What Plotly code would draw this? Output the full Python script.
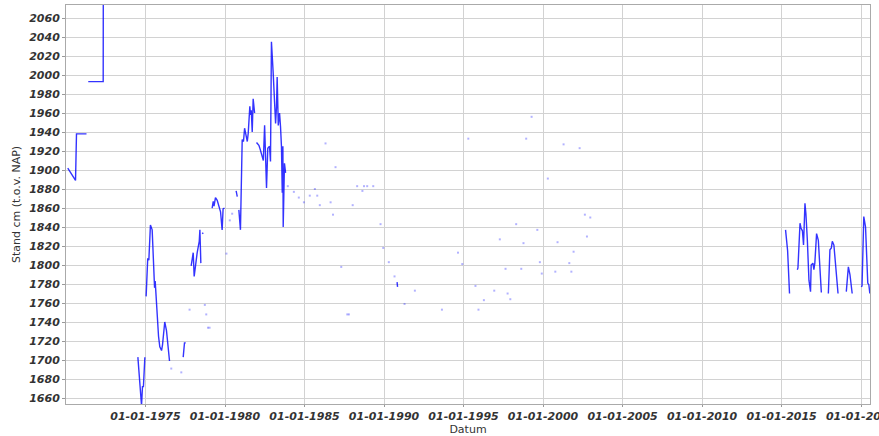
import datetime as dt
import plotly.graph_objects as go

# Continuous measurement series (decimal year, stand cm t.o.v. NAP); None = gap
line_years = [
    1970.11, 1970.28, 1970.60, 1970.66, 1971.29, None,
    1971.40, 1972.34, 1972.35, None,
    1974.52, 1974.62, 1974.69, 1974.75, 1974.81, 1974.87, 1974.96, None,
    1975.04, 1975.14, 1975.21, 1975.31, 1975.42, 1975.50, 1975.57, 1975.61, 1975.65,
    1975.74, 1975.82, 1975.90, 1976.01, 1976.07, 1976.21, 1976.32, 1976.42, 1976.51, None,
    1977.37, 1977.45, 1977.53, None,
    1977.87, 1977.96, 1978.00, 1978.06, 1978.14, 1978.25, 1978.38, 1978.42, 1978.48, None,
    1978.57, 1978.63, None,
    1979.19, 1979.26, 1979.31, 1979.40, 1979.51, 1979.61, 1979.72, 1979.82, 1979.88, 1979.97, None,
    1980.70, 1980.77, None,
    1980.87, 1980.97, 1981.08, 1981.16, 1981.23, 1981.40, 1981.46, 1981.56, 1981.60,
    1981.65, 1981.71, 1981.77, 1981.86, None,
    1981.98, 1982.13, 1982.19, 1982.28, 1982.41, 1982.49, 1982.55, 1982.61, 1982.69,
    1982.80, 1982.86, 1982.92, 1983.03, 1983.11, 1983.18, 1983.24, 1983.28, 1983.35,
    1983.43, 1983.49, 1983.55, 1983.60, 1983.64, 1983.66, 1983.74, 1983.81, None,
    1990.82, 1990.85, None,
    2015.25, 2015.38, 2015.50, None,
    2015.99, 2016.03, 2016.16, 2016.22, 2016.31, 2016.38, 2016.47, 2016.53, 2016.62,
    2016.72, 2016.82, 2016.86, 2016.97, 2017.03, 2017.09, 2017.20, 2017.31, 2017.50, None,
    2017.94, 2018.04, 2018.13, 2018.19, 2018.29, 2018.55, None,
    2019.07, 2019.20, 2019.30, 2019.44, None,
    2020.01, 2020.06, 2020.17, 2020.28, 2020.42, 2020.49, 2020.55,
]
line_levels = [
    1902, 1897, 1889, 1938, 1938, None,
    1993, 1993, 2150, None,
    1703, 1680, 1670, 1652, 1672, 1672, 1703, None,
    1767, 1807, 1805, 1842, 1837, 1800, 1776, 1783, 1770,
    1744, 1725, 1714, 1710, 1716, 1740, 1731, 1716, 1699, None,
    1703, 1718, 1718, None,
    1799, 1808, 1813, 1788, 1800, 1813, 1825, 1837, 1802, None,
    1833, 1834, None,
    1860, 1867, 1862, 1871, 1868, 1861, 1856, 1837, 1859, 1860, None,
    1878, 1872, None,
    1858, 1837, 1932, 1930, 1944, 1930, 1939, 1967, 1958,
    1963, 1940, 1975, 1960, None,
    1929, 1926, 1923, 1918, 1910, 1947, 1918, 1881, 1923,
    1925, 1909, 2035, 2002, 1970, 1949, 1967, 1998, 1947,
    1960, 1946, 1925, 1876, 1925, 1840, 1907, 1897, None,
    1782, 1777, None,
    1837, 1815, 1770, None,
    1795, 1797, 1844, 1839, 1836, 1821, 1865, 1854, 1826,
    1784, 1772, 1800, 1802, 1795, 1802, 1833, 1826, 1771, None,
    1770, 1816, 1818, 1825, 1821, 1770, None,
    1772, 1798, 1790, 1770, None,
    1777, 1778, 1851, 1840, 1781, 1779, 1770,
]

# Single measurements
point_years = [
    1976.62, 1977.25, 1977.77, 1978.73, 1978.82, 1978.93, 1979.03,
    1980.09, 1980.30, 1980.45,
    1983.95, 1984.33, 1984.64, 1984.96, 1985.33, 1985.65, 1985.80, 1985.96,
    1986.32, 1986.64, 1986.79, 1986.95, 1987.31, 1987.69, 1987.79, 1988.03,
    1988.31, 1988.64, 1988.74, 1988.94, 1989.32, 1989.78, 1989.95, 1990.30,
    1990.66, 1991.29, 1991.94, 1993.64, 1994.65, 1994.92, 1995.30, 1995.75,
    1995.94, 1996.28, 1996.93, 1997.28, 1997.64, 1997.77, 1997.94, 1998.31,
    1998.63, 1998.77, 1998.94, 1999.28, 1999.64, 1999.80, 1999.92, 2000.30,
    2000.77, 2000.91, 2001.29, 2001.65, 2001.78, 2001.92, 2002.30, 2002.63,
    2002.76, 2002.97,
]
point_levels = [
    1691, 1687, 1753, 1758, 1748, 1734, 1734,
    1812, 1847, 1854,
    1883, 1877, 1871, 1866, 1873, 1880, 1873, 1863,
    1928, 1866, 1853, 1903, 1798, 1748, 1748, 1863,
    1883, 1878, 1883, 1883, 1883, 1843, 1818, 1803,
    1788, 1759, 1773, 1753, 1813, 1801, 1933, 1778,
    1753, 1763, 1773, 1827, 1796, 1770, 1764, 1843,
    1796, 1823, 1933, 1956, 1837, 1803, 1791, 1891,
    1793, 1824, 1927, 1802, 1793, 1814, 1923, 1853,
    1830, 1850,
]

tick_years = [1975, 1980, 1985, 1990, 1995, 2000, 2005, 2010, 2015, 2020]
y_ticks = list(range(1660, 2061, 20))


def to_date(y):
    if y is None:
        return None
    yr = int(y)
    start = dt.datetime(yr, 1, 1)
    end = dt.datetime(yr + 1, 1, 1)
    return start + (end - start) * (y - yr)


fig = go.Figure()
fig.add_trace(go.Scatter(
    x=[to_date(v) for v in line_years], y=line_levels,
    mode="lines", connectgaps=False,
    line=dict(color="rgba(0,0,255,0.8)", width=1.4),
    showlegend=False, hoverinfo="x+y",
))
fig.add_trace(go.Scatter(
    x=[to_date(v) for v in point_years], y=point_levels,
    mode="markers",
    marker=dict(color="rgba(0,0,255,0.3)", size=2, symbol="square", line=dict(width=0)),
    showlegend=False, hoverinfo="x+y",
))

tick_font = dict(family="DejaVu Sans", size=11, color="#333333", weight="bold", style="italic")

fig.update_layout(
    width=879, height=436,
    margin=dict(l=66, r=9, t=5, b=32, autoexpand=False),
    paper_bgcolor="white", plot_bgcolor="white",
    xaxis=dict(
        type="date",
        range=[to_date(1970.0), to_date(2020.56)],
        tickvals=[dt.datetime(y, 1, 1) for y in tick_years],
        ticktext=[f"01-01-{y}" for y in tick_years],
        tickfont=tick_font,
        ticklabeloverflow="allow",
        ticks="outside", ticklen=2, tickcolor="#999999",
        showgrid=True, gridcolor="#d2d2d2", gridwidth=1.2,
        showline=True, linecolor="#aaaaaa", linewidth=1, mirror=True,
        zeroline=False, automargin=False,
        title=dict(text="Datum", font=dict(family="DejaVu Sans", size=11, color="#333333"), standoff=4),
    ),
    yaxis=dict(
        range=[1653.7, 2073.7],
        tickvals=y_ticks,
        tickfont=tick_font,
        ticks="outside", ticklen=3, tickcolor="#999999",
        showgrid=True, gridcolor="#d2d2d2", gridwidth=1.2,
        showline=True, linecolor="#aaaaaa", linewidth=1, mirror=True,
        zeroline=False, automargin=False,
        title=dict(text="Stand cm (t.o.v. NAP)", font=dict(family="DejaVu Sans", size=11, color="#333333"), standoff=6),
    ),
)

fig.write_html("out.html", config={"displayModeBar": False},
               post_script="document.body.style.margin='0';")
